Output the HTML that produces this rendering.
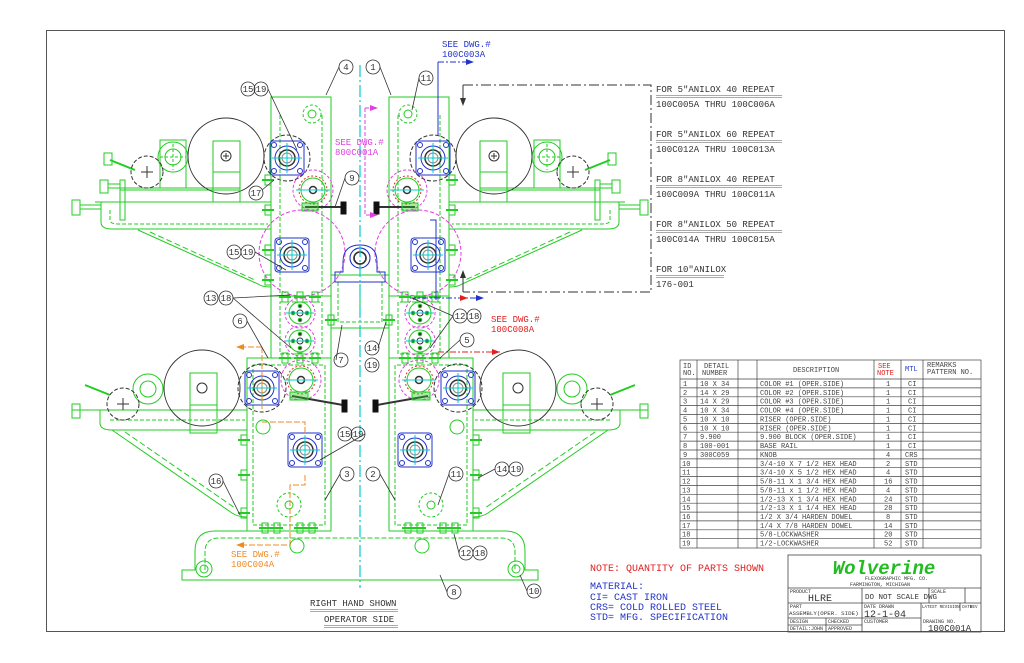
<!DOCTYPE html>
<html><head><meta charset="utf-8"><style>
html,body{margin:0;padding:0;background:#fff;width:1024px;height:663px;overflow:hidden}
svg{display:block}
text{font-family:"Liberation Mono","DejaVu Sans Mono",monospace;}
</style></head><body>
<svg width="1024" height="663" viewBox="0 0 1024 663" xmlns="http://www.w3.org/2000/svg">
<defs>
<g id="bearing">
 <rect x="-17" y="-17" width="34" height="34" rx="3" fill="none" stroke="#2233cc" stroke-width="1"/>
 <circle r="12" fill="none" stroke="#2233cc"/>
 <circle r="8" fill="none" stroke="#333" stroke-width="1.5"/>
 <circle r="5" fill="none" stroke="#888"/>
 <line x1="-15" y1="0" x2="15" y2="0" stroke="#00cccc"/>
 <line x1="0" y1="-15" x2="0" y2="15" stroke="#00cccc"/>
 <circle cx="-13" cy="-13" r="2.5" fill="none" stroke="#2233cc"/><circle cx="13" cy="-13" r="2.5" fill="none" stroke="#2233cc"/>
 <circle cx="-13" cy="13" r="2.5" fill="none" stroke="#2233cc"/><circle cx="13" cy="13" r="2.5" fill="none" stroke="#2233cc"/>
</g>
<g id="smallroll">
 <circle r="15" fill="none" stroke="#e040e0" stroke-dasharray="3,2"/>
 <circle r="11" fill="none" stroke="#2c2"/>
 <circle r="3" fill="none" stroke="#333"/>
 <circle cx="-7" r="1.8" fill="#333"/><circle cx="7" r="1.8" fill="#333"/><circle cy="-7" r="1.8" fill="#333"/><circle cy="7" r="1.8" fill="#333"/>
 <line x1="-14" x2="14" stroke="#0cc"/>
</g>
<g id="anilox">
 <circle r="20" fill="none" stroke="#e040e0" stroke-dasharray="3,2"/>
 <circle r="14" fill="none" stroke="#e03030" stroke-dasharray="2,2"/>
 <circle r="12" fill="none" stroke="#2c2"/>
 <circle r="3.5" fill="none" stroke="#333" stroke-width="1.5"/>
 <line x1="-17" x2="17" stroke="#0cc"/>
</g>
<g id="bolt">
 <rect x="-3" y="-5" width="6" height="10" fill="none" stroke="#2c2"/>
 <line x1="-6" y1="0" x2="6" y2="0" stroke="#2c2" stroke-width="2"/>
</g>
<g id="half" fill="none" stroke="#2c2" stroke-width="1">
 <rect x="271" y="97" width="60" height="199"/>
 <line x1="280" y1="115" x2="280" y2="296" stroke-dasharray="4,2"/>
 <line x1="322" y1="115" x2="322" y2="296" stroke-dasharray="4,2"/>
 <circle cx="312" cy="114" r="9" stroke-dasharray="3,2"/><circle cx="312" cy="114" r="4"/>
 <rect x="271" y="296" width="60" height="62"/>
 <rect x="280" y="302" width="42" height="52" stroke-dasharray="4,2"/>
 <rect x="247" y="358" width="84" height="173"/>
 <rect x="253" y="365" width="72" height="160" stroke-dasharray="4,2"/>
 <circle cx="289" cy="505" r="12" stroke-dasharray="3,2"/><circle cx="289" cy="505" r="4"/>
 <circle cx="263" cy="427" r="7"/>
 <path d="M331 275 H360 M331 328 H360"/>
 <rect x="338" y="282" width="22" height="40" stroke-dasharray="4,2"/>
 <path d="M95 202 H271 M101 202 V222 Q101 229 112 229 H271"/>
 <path d="M110 210 V220 Q110 224 118 224 H268" stroke-dasharray="4,2"/>
 <path d="M138 230 L258 284 Q262 287 271 287"/>
 <path d="M150 232 L255 280" stroke-dasharray="6,3"/>
 <path d="M120 188 H240 M120 190 H240"/>
 <rect x="120" y="180" width="5" height="40"/>
 <rect x="72" y="200" width="8" height="15"/><path d="M80 205 H101 M80 209 H101"/>
 <rect x="100" y="180" width="8" height="13"/><path d="M108 184 H120 M108 188 H120"/>
 <path d="M110 160 L135 170" stroke-width="2"/><rect x="104" y="153" width="8" height="12"/>
 <circle cx="173" cy="157" r="15"/><circle cx="173" cy="157" r="8"/>
 <path d="M160 157 H186 M173 144 V170" stroke-dasharray="3,2"/>
 <rect x="160" y="140" width="26" height="48"/>
 <circle cx="147" cy="172" r="16" stroke="#333" stroke-dasharray="4,2"/>
 <path d="M141 172 H153 M147 166 V178" stroke="#333"/>
 <circle cx="226" cy="156" r="38" stroke="#333"/>
 <rect x="213" y="141" width="27" height="61"/><path d="M213 172 H240"/>
 <circle cx="226" cy="156" r="5" stroke="#333"/><path d="M223 156 H229 M226 153 V159" stroke="#333"/>
 <circle cx="287" cy="158" r="23" stroke="#333" stroke-dasharray="4,2"/>
 <use href="#bearing" x="287" y="158"/>
 <use href="#anilox" x="313" y="190"/>
 <path d="M305 207 H342" stroke="#333" stroke-width="2"/>
 <rect x="302" y="203" width="16" height="8" fill="#2c2" fill-opacity="0.4"/>
 <rect x="341" y="202" width="5" height="12" fill="#111" stroke="#111"/>
 <circle cx="302" cy="253" r="43" stroke="#e040e0" stroke-dasharray="4,2"/>
 <use href="#bearing" x="292" y="255"/>
 <use href="#smallroll" x="300" y="313"/>
 <use href="#smallroll" x="300" y="341"/>
 <use href="#bolt" x="285" y="297"/><use href="#bolt" x="300" y="297"/><use href="#bolt" x="315" y="297"/>
 <use href="#bolt" x="285" y="358"/><use href="#bolt" x="300" y="358"/><use href="#bolt" x="315" y="358"/>
 <use href="#bolt" x="268" y="180"/><use href="#bolt" x="268" y="210"/><use href="#bolt" x="268" y="250"/><use href="#bolt" x="268" y="280"/>
 <use href="#bolt" x="331" y="320"/>
 <path d="M72 410 H247 M100 410 V423 Q100 430 112 430 H247"/>
 <path d="M112 430 L232 513 Q238 517 247 517"/>
 <path d="M125 432 L235 508" stroke-dasharray="6,3"/>
 <path d="M110 420 H245" stroke-dasharray="4,2"/>
 <rect x="72" y="404" width="8" height="14"/>
 <path d="M85 385 L110 395" stroke-width="2"/>
 <circle cx="148" cy="389" r="15"/><circle cx="148" cy="389" r="8"/>
 <circle cx="123" cy="404" r="16" stroke="#333" stroke-dasharray="4,2"/>
 <path d="M117 404 H129 M123 398 V410" stroke="#333"/>
 <circle cx="202" cy="388" r="38" stroke="#333"/>
 <rect x="190" y="373" width="27" height="60"/><path d="M190 405 H217"/>
 <circle cx="202" cy="388" r="5" stroke="#333"/>
 <circle cx="262" cy="388" r="24" stroke="#333" stroke-dasharray="4,2"/>
 <use href="#bearing" x="262" y="388"/>
 <use href="#anilox" x="301" y="380"/>
 <path d="M292 396 L343 405" stroke="#333" stroke-width="2"/>
 <rect x="290" y="392" width="18" height="8" fill="#2c2" fill-opacity="0.4"/>
 <rect x="342" y="400" width="5" height="12" fill="#111" stroke="#111"/>
 <use href="#bearing" x="305" y="450"/>
 <use href="#bolt" x="244" y="440"/><use href="#bolt" x="244" y="475"/><use href="#bolt" x="244" y="513"/>
 <use href="#bolt" x="265" y="528"/><use href="#bolt" x="277" y="528"/><use href="#bolt" x="300" y="528"/><use href="#bolt" x="312" y="528"/>
 <path d="M360 245 Q343 245 343 262 V272 H335 V282 H360" stroke="#2233cc"/>
 <circle cx="360" cy="258" r="10" stroke="#2233cc"/><circle cx="360" cy="258" r="6" stroke="#333" stroke-width="1.5"/>
</g>
</defs>

<rect x="46.5" y="30.5" width="958" height="601" fill="none" stroke="#555" stroke-width="1"/>

<use href="#half"/>
<use href="#half" transform="translate(720,0) scale(-1,1)"/>

<g fill="none" stroke="#2c2">
 <path d="M247 531 H215 Q195 531 195 551 V570 H182 V580 H538 V570 H525 V551 Q525 531 505 531 H473"/>
 <path d="M205 570 V552 Q205 538 219 538 H501 Q515 538 515 552 V570" stroke-dasharray="5,2"/>
 <circle cx="204" cy="569" r="8"/><circle cx="204" cy="569" r="4"/>
 <circle cx="516" cy="569" r="8"/><circle cx="516" cy="569" r="4"/>
 <circle cx="297" cy="546" r="7"/><circle cx="422" cy="546" r="7"/>
</g>

<line x1="360" y1="65" x2="360" y2="588" stroke="#00cccc" stroke-width="1.2" stroke-dasharray="12,3,2,3"/>

<path d="M438 62 H470" stroke="#2233cc" stroke-dasharray="6,2,2,2" fill="none"/>
<path d="M466 59 L474 62 L466 65Z" fill="#2233cc"/>
<path d="M438 62 V135 M436 300 V220 H430" stroke="#2233cc" fill="none"/>
<path d="M410 298 H482" stroke="#2233cc" stroke-dasharray="6,2,2,2"/>
<path d="M460 295 L468 298 L460 301Z" fill="#e02020"/><path d="M476 295 L484 298 L476 301Z" fill="#2233cc"/>
<path d="M438 352 H500" stroke="#e02020" stroke-dasharray="6,2,2,2"/>
<path d="M492 349 L500 352 L492 355Z" fill="#e02020"/>
<path d="M365 108 V215 H375 M365 108 H375" stroke="#e040e0" stroke-dasharray="4,2" fill="none"/>
<path d="M370 105 L378 108 L370 111Z" fill="#e040e0"/><path d="M370 212 L378 215 L370 218Z" fill="#e040e0"/>
<path d="M262 347 H240 M262 347 V410 M262 422 H305 V436 M305 475 V485 H290 V545 H240" stroke="#f08a20" stroke-dasharray="6,2" fill="none"/>
<path d="M244 344 L236 347 L244 350Z" fill="#f08a20"/><path d="M244 542 L236 545 L244 548Z" fill="#f08a20"/>

<path d="M463 85 H651 V292 H463" fill="none" stroke="#333" stroke-dasharray="10,3,2,3"/>
<path d="M463 85 V100 M463 292 V275" stroke="#333"/>
<path d="M460 98 L463 106 L466 98Z M460 278 L463 270 L466 278Z" fill="#333"/>

<g fill="none" stroke="#333" stroke-width="0.8">
 <path d="M339 67 L326 95 M380 67 L391 95 M419 78 L412 110 M268 89 L297 150 M262 190 L274 180 M345 178 L335 207"/>
 <path d="M255 252 L286 270 M233 298 L290 295 M233 298 L291 348 M247 321 L268 358 M336 360 L342 325 M378 348 L386 322 M453 316 L412 298 M453 316 L430 348 M460 340 L440 358"/>
 <path d="M365 434 L320 460 M340 474 L325 500 M380 474 L395 500 M449 474 L438 505 M495 469 L478 478 M223 481 L240 515 M459 553 L454 534 M447 592 L440 575 M527 591 L520 575"/>
</g>
<g font-size="9" fill="#333" text-anchor="middle">
 <g fill="none" stroke="#333" stroke-width="0.8">
 <circle cx="346" cy="67" r="7"/><circle cx="373" cy="67" r="7"/><circle cx="426" cy="78" r="7"/>
 <circle cx="248" cy="89" r="7"/><circle cx="261" cy="89" r="7"/><circle cx="256" cy="193" r="7"/><circle cx="352" cy="178" r="7"/>
 <circle cx="234" cy="252" r="7"/><circle cx="248" cy="252" r="7"/><circle cx="211" cy="298" r="7"/><circle cx="226" cy="298" r="7"/>
 <circle cx="240" cy="321" r="7"/><circle cx="341" cy="360" r="7"/><circle cx="372" cy="348" r="7"/><circle cx="372" cy="365" r="7"/>
 <circle cx="460" cy="316" r="7"/><circle cx="474" cy="316" r="7"/><circle cx="467" cy="340" r="7"/>
 <circle cx="345" cy="434" r="7"/><circle cx="358" cy="434" r="7"/><circle cx="347" cy="474" r="7"/><circle cx="373" cy="474" r="7"/>
 <circle cx="456" cy="474" r="7"/><circle cx="502" cy="469" r="7"/><circle cx="516" cy="469" r="7"/><circle cx="216" cy="481" r="7"/>
 <circle cx="466" cy="553" r="7"/><circle cx="480" cy="553" r="7"/><circle cx="454" cy="592" r="7"/><circle cx="534" cy="591" r="7"/>
 </g>
 <text x="346" y="70">4</text><text x="373" y="70">1</text><text x="426" y="81">11</text>
 <text x="248" y="92">15</text><text x="261" y="92">19</text><text x="256" y="196">17</text><text x="352" y="181">9</text>
 <text x="234" y="255">15</text><text x="248" y="255">19</text><text x="211" y="301">13</text><text x="226" y="301">18</text>
 <text x="240" y="324">6</text><text x="341" y="363">7</text><text x="372" y="351">14</text><text x="372" y="368">19</text>
 <text x="460" y="319">12</text><text x="474" y="319">18</text><text x="467" y="343">5</text>
 <text x="345" y="437">15</text><text x="358" y="437">19</text><text x="347" y="477">3</text><text x="373" y="477">2</text>
 <text x="456" y="477">11</text><text x="502" y="472">14</text><text x="516" y="472">19</text><text x="216" y="484">16</text>
 <text x="466" y="556">12</text><text x="480" y="556">18</text><text x="454" y="595">8</text><text x="534" y="594">10</text>
</g>

<g font-size="9">
 <text x="442" y="47" fill="#2233cc">SEE DWG.#</text><text x="442" y="57" fill="#2233cc">100C003A</text>
 <text x="335" y="145" fill="#e040e0">SEE DWG.#</text><text x="335" y="155" fill="#e040e0">800C001A</text>
 <text x="491" y="322" fill="#e02020">SEE DWG.#</text><text x="491" y="332" fill="#e02020">100C008A</text>
 <text x="231" y="557" fill="#f08a20">SEE DWG.#</text><text x="231" y="567" fill="#f08a20">100C004A</text>
</g>
<g font-size="9" fill="#333">
 <text x="310" y="606">RIGHT HAND SHOWN</text>
 <path d="M310 609.5 H398 M310 611.5 H398" stroke="#555" stroke-width="0.5"/>
 <text x="324" y="622">OPERATOR SIDE</text>
 <path d="M324 625.5 H398 M324 627.5 H398" stroke="#555" stroke-width="0.5"/>
</g>

<g font-size="9" fill="#333">
 <text x="656" y="92">FOR 5"ANILOX 40 REPEAT</text><text x="656" y="107">100C005A THRU 100C006A</text>
 <text x="656" y="137">FOR 5"ANILOX 60 REPEAT</text><text x="656" y="152">100C012A THRU 100C013A</text>
 <text x="656" y="182">FOR 8"ANILOX 40 REPEAT</text><text x="656" y="197">100C009A THRU 100C011A</text>
 <text x="656" y="227">FOR 8"ANILOX 50 REPEAT</text><text x="656" y="242">100C014A THRU 100C015A</text>
 <text x="656" y="272">FOR 10"ANILOX</text><text x="656" y="287">176-001</text>
 <path d="M656 95.5 H782 M656 97.5 H782 M656 140.5 H782 M656 142.5 H782 M656 185.5 H782 M656 187.5 H782 M656 230.5 H782 M656 232.5 H782 M656 275.5 H724 M656 277.5 H724" stroke="#555" stroke-width="0.5"/>
</g>

<!-- parts table -->
<g fill="none" stroke="#444" stroke-width="0.7">
 <rect x="680" y="360" width="301" height="188"/>
 <path d="M697 360 V548 M738 360 V548 M757 360 V548 M874 360 V548 M901 360 V548 M923 360 V548"/>
 <path d="M680 379 H981 M680 387.9 H981 M680 396.8 H981 M680 405.6 H981 M680 414.5 H981 M680 423.4 H981 M680 432.2 H981 M680 441.1 H981 M680 450 H981 M680 458.9 H981 M680 467.7 H981 M680 476.6 H981 M680 485.5 H981 M680 494.3 H981 M680 503.2 H981 M680 512.1 H981 M680 520.9 H981 M680 529.8 H981 M680 538.7 H981"/>
</g>
<g font-size="7" fill="#444">
 <text x="683" y="368">ID</text><text x="683" y="375">NO.</text>
 <text x="704" y="368">DETAIL</text><text x="702" y="375">NUMBER</text>
 <text x="793" y="372">DESCRIPTION</text>
 <text x="878" y="368" fill="#e02020">SEE</text><text x="877" y="375" fill="#e02020">NOTE</text>
 <text x="905" y="371" fill="#2233cc">MTL</text>
 <text x="927" y="367">REMARKS</text><text x="927" y="374">PATTERN NO.</text>
</g>
<g font-size="7" fill="#444">
 <text x="683" y="386">1</text><text x="700" y="386">10 X 34</text><text x="760" y="386">COLOR #1 (OPER.SIDE)</text><text x="886" y="386">1</text><text x="908" y="386">CI</text>
 <text x="683" y="394.9">2</text><text x="700" y="394.9">14 X 29</text><text x="760" y="394.9">COLOR #2 (OPER.SIDE)</text><text x="886" y="394.9">1</text><text x="908" y="394.9">CI</text>
 <text x="683" y="403.7">3</text><text x="700" y="403.7">14 X 29</text><text x="760" y="403.7">COLOR #3 (OPER.SIDE)</text><text x="886" y="403.7">1</text><text x="908" y="403.7">CI</text>
 <text x="683" y="412.6">4</text><text x="700" y="412.6">10 X 34</text><text x="760" y="412.6">COLOR #4 (OPER.SIDE)</text><text x="886" y="412.6">1</text><text x="908" y="412.6">CI</text>
 <text x="683" y="421.5">5</text><text x="700" y="421.5">10 X 10</text><text x="760" y="421.5">RISER (OPER.SIDE)</text><text x="886" y="421.5">1</text><text x="908" y="421.5">CI</text>
 <text x="683" y="430.3">6</text><text x="700" y="430.3">10 X 10</text><text x="760" y="430.3">RISER (OPER.SIDE)</text><text x="886" y="430.3">1</text><text x="908" y="430.3">CI</text>
 <text x="683" y="439.2">7</text><text x="700" y="439.2">9.900</text><text x="760" y="439.2">9.900 BLOCK (OPER.SIDE)</text><text x="886" y="439.2">1</text><text x="908" y="439.2">CI</text>
 <text x="683" y="448.1">8</text><text x="700" y="448.1">100-001</text><text x="760" y="448.1">BASE RAIL</text><text x="886" y="448.1">1</text><text x="908" y="448.1">CI</text>
 <text x="683" y="456.9">9</text><text x="700" y="456.9">300C059</text><text x="760" y="456.9">KNOB</text><text x="886" y="456.9">4</text><text x="905" y="456.9">CRS</text>
 <text x="682" y="465.8">10</text><text x="760" y="465.8">3/4-10 X 7 1/2 HEX HEAD</text><text x="886" y="465.8">2</text><text x="905" y="465.8">STD</text>
 <text x="682" y="474.7">11</text><text x="760" y="474.7">3/4-10 X 5 1/2 HEX HEAD</text><text x="886" y="474.7">4</text><text x="905" y="474.7">STD</text>
 <text x="682" y="483.5">12</text><text x="760" y="483.5">5/8-11 X 1 3/4 HEX HEAD</text><text x="884" y="483.5">16</text><text x="905" y="483.5">STD</text>
 <text x="682" y="492.4">13</text><text x="760" y="492.4">5/8-11 x 1 1/2 HEX HEAD</text><text x="886" y="492.4">4</text><text x="905" y="492.4">STD</text>
 <text x="682" y="501.3">14</text><text x="760" y="501.3">1/2-13 X 1 3/4 HEX HEAD</text><text x="884" y="501.3">24</text><text x="905" y="501.3">STD</text>
 <text x="682" y="510.1">15</text><text x="760" y="510.1">1/2-13 X 1 1/4 HEX HEAD</text><text x="884" y="510.1">28</text><text x="905" y="510.1">STD</text>
 <text x="682" y="519">16</text><text x="760" y="519">1/2 X 3/4 HARDEN DOWEL</text><text x="886" y="519">8</text><text x="905" y="519">STD</text>
 <text x="682" y="527.9">17</text><text x="760" y="527.9">1/4 X 7/8 HARDEN DOWEL</text><text x="884" y="527.9">14</text><text x="905" y="527.9">STD</text>
 <text x="682" y="536.7">18</text><text x="760" y="536.7">5/8-LOCKWASHER</text><text x="884" y="536.7">20</text><text x="905" y="536.7">STD</text>
 <text x="682" y="545.6">19</text><text x="760" y="545.6">1/2-LOCKWASHER</text><text x="884" y="545.6">52</text><text x="905" y="545.6">STD</text>
</g>

<g font-size="10">
 <text x="590" y="571" fill="#e02020">NOTE: QUANTITY OF PARTS SHOWN</text>
 <text x="590" y="589" fill="#2233cc">MATERIAL:</text>
 <text x="590" y="600" fill="#2233cc">CI= CAST IRON</text>
 <text x="590" y="610" fill="#2233cc">CRS= COLD ROLLED STEEL</text>
 <text x="590" y="620" fill="#2233cc">STD= MFG. SPECIFICATION</text>
</g>

<g fill="none" stroke="#444" stroke-width="0.8">
 <rect x="788" y="555" width="193" height="77"/>
 <path d="M788 588 H981 M788 603 H981 M788 618 H921 M788 625 H862 M862 588 V632 M826 618 V632 M929 588 V603 M921 603 V632 M960 603 V611 M965 588 V603"/>
</g>
<text x="884" y="574" font-family="Liberation Serif,serif" font-size="19" font-weight="bold" font-style="italic" fill="#22bb22" text-anchor="middle">Wolverine</text>
<g font-size="5" fill="#333">
 <text x="865" y="580">FLEXOGRAPHIC MFG. CO.</text>
 <text x="850" y="586">FARMINGTON, MICHIGAN</text>
 <text x="790" y="593">PRODUCT</text><text x="790" y="608">PART</text>
 <text x="790" y="623">DESIGN</text><text x="828" y="623">CHECKED</text>
 <text x="790" y="630">DETAIL:JOHN</text><text x="828" y="630">APPROVED</text>
 <text x="864" y="608">DATE DRAWN</text>
 <text x="864" y="623">CUSTOMER</text><text x="923" y="623">DRAWING NO.</text>
 <text x="931" y="593">SCALE</text>
</g>
<g font-size="4.2" fill="#333"><text x="922" y="608">LATEST REVISION DATE</text><text x="970" y="608">REV</text></g>
<g fill="#333">
 <text x="808" y="601" font-size="10">HLRE</text>
 <text x="865" y="599" font-family="Liberation Serif,serif" font-size="7.5">DO NOT SCALE DWG</text>
 <text x="789" y="615" font-size="5.8">ASSEMBLY(OPER. SIDE)</text>
 <text x="864" y="617" font-size="10">12-1-04</text>
 <text x="928" y="631" font-size="9">100C001A</text>
</g>
</svg>
</body></html>
